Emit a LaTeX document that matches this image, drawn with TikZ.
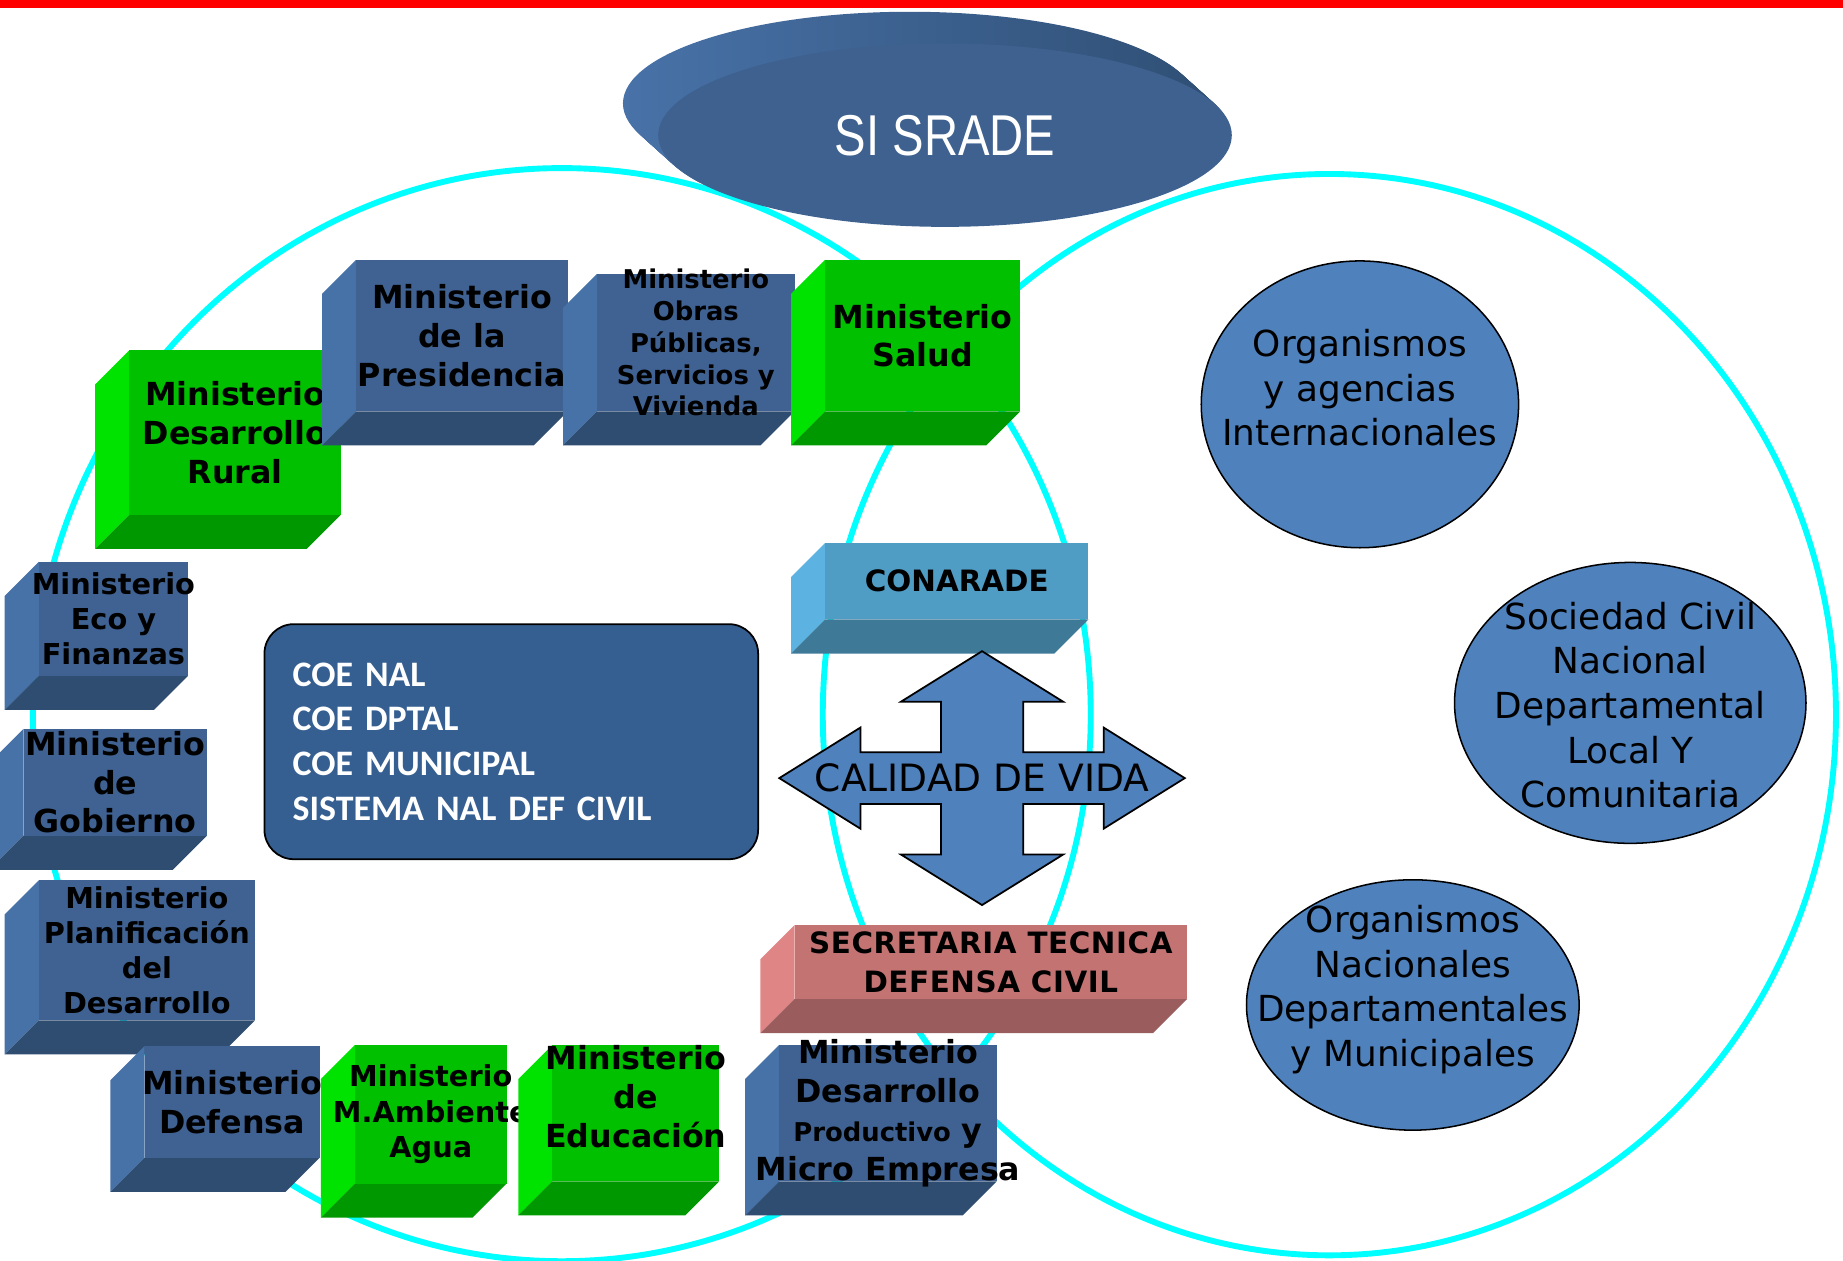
\documentclass[tikz,border=0pt]{standalone}
\usepackage{fontspec}
\setmainfont{DejaVu Sans}
\newfontfamily\calibri{Carlito}
\newfontfamily\titulo[FakeStretch=0.82]{Liberation Sans}
\usetikzlibrary{shapes.geometric}

\definecolor{azul}{RGB}{63,98,146}
\definecolor{azullado}{RGB}{71,114,168}
\definecolor{azulbase}{RGB}{47,77,113}
\definecolor{verde}{RGB}{0,192,0}
\definecolor{verdelado}{RGB}{0,226,0}
\definecolor{verdebase}{RGB}{0,152,0}
\definecolor{celeste}{RGB}{79,156,197}
\definecolor{celestelado}{RGB}{92,179,225}
\definecolor{celestebase}{RGB}{62,121,152}
\definecolor{rosa}{RGB}{196,115,115}
\definecolor{rosalado}{RGB}{224,133,133}
\definecolor{rosabase}{RGB}{154,92,92}
\definecolor{coefondo}{RGB}{54,95,145}
\definecolor{circulos}{RGB}{79,129,189}
\definecolor{cian}{RGB}{0,255,255}
\definecolor{discotapa}{RGB}{62,97,143}
\definecolor{discoclaro}{RGB}{72,114,168}
\definecolor{discooscuro}{RGB}{48,80,118}

\newcommand{\letra}[2]{\fontsize{#1}{#2}\selectfont}
\newcommand{\prof}{29}
% caja 3D: nombre, x, y, ancho, alto, color, estilo, texto
\newcommand{\caja}[8]{%
  \fill[#6lado] (#2,#3) -- ++(-\prof,\prof) -- ++(0,#5) -- ++(\prof,-\prof) -- cycle;
  \fill[#6base] (#2,#3+#5) -- ++(-\prof,\prof) -- ++(#4,0) -- ++(\prof,-\prof) -- cycle;
  \fill[#6] (#2,#3) rectangle ++(#4,#5);
  \node (#1) [textocaja, #7] at (#2+#4/2,#3+#5/2) {#8};
}

\begin{document}
\begin{tikzpicture}[x=1pt, y=-1pt]

    % Estilos
    \tikzstyle{textocaja} = [align=center, inner sep=0pt]
    \tikzstyle{grande} = [font=\bfseries\letra{27}{33}]
    \tikzstyle{mediana} = [font=\bfseries\letra{24.5}{30}]
    \tikzstyle{chica} = [font=\bfseries\letra{22}{27}]
    \tikzstyle{aro} = [draw=cian, line width=5pt]
    \tikzstyle{disco} = [ellipse, fill=discotapa, minimum width=488pt, minimum height=156pt, inner sep=0pt, text=white, font=\titulo\letra{49}{49}]
    \tikzstyle{cruz} = [fill=circulos, draw=black, line width=1.5pt]
    \tikzstyle{coebox} = [rectangle, rounded corners=25pt, fill=coefondo, draw=black, line width=1.5pt, minimum width=420pt, minimum height=200pt, text width=372pt, align=left, text=white, font=\calibri\bfseries\letra{30.5}{38}]
    \tikzstyle{circulo} = [ellipse, fill=circulos, draw=black, line width=1.3pt, inner sep=0pt]
    \tikzstyle{textocirculo} = [align=center, inner sep=0pt, font=\letra{30.5}{38}]

    \useasboundingbox (0,0) rectangle (1568,1072);

    % Fondo
    \fill[red] (0,0) rectangle (1568,6.5);
    \draw[aro] (478,608) ellipse [x radius=450, y radius=465];
    \draw[aro] (1131,608) ellipse [x radius=431, y radius=460];

    % Disco
    \foreach \k in {1,...,30}
        \shade[left color=discoclaro, right color=discooscuro] (804-\k,115-0.9*\k) ellipse [x radius=244, y radius=78];
    \node (sisrade) [disco] at (804,115) {SI SRADE};

    % Cajas
    \caja{rural}{110}{298}{180}{140}{verde}{grande}{Ministerio\\Desarrollo\\Rural}
    \caja{presidencia}{303}{221}{180}{129}{azul}{grande}{Ministerio\\de la\\Presidencia}
    \caja{obras}{508}{233}{168}{117}{azul}{chica}{Ministerio\\Obras\\Públicas,\\Servicios y\\Vivienda}
    \caja{salud}{702}{221}{166}{129}{verde}{grande}{Ministerio\\Salud}
    \caja{conarade}{702}{462}{224}{65}{celeste}{font=\bfseries\letra{25}{30}}{CONARADE}
    \caja{eco}{33}{478}{127}{97}{azul}{mediana}{Ministerio\\Eco y\\Finanzas}
    \caja{gobierno}{20}{620}{156}{91}{azul}{grande}{Ministerio\\de\\Gobierno}
    \caja{planificacion}{33}{749}{184}{119}{azul}{mediana}{Ministerio\\Planificación\\del\\Desarrollo}
    \caja{defensa}{123}{890}{149}{95}{azul}{grande}{Ministerio\\Defensa}
    \caja{agua}{302}{889}{129}{118}{verde}{mediana}{Ministerio\\M.Ambiente\\Agua}
    \caja{educacion}{470}{889}{142}{116}{verde}{grande, yshift=14pt}{Ministerio\\de\\Educación}
    \caja{productivo}{663}{889}{185}{116}{azul}{grande}{Ministerio\\Desarrollo\\{\letra{22}{32}Productivo} y\\Micro Empresa}
    \caja{secretaria}{676}{787}{334}{63}{rosa}{font=\bfseries\letra{25}{33}\addfontfeature{LetterSpace=2}}{SECRETARIA TECNICA\\DEFENSA CIVIL}

    % Flecha
    \begin{scope}[shift={(835.5,662)}]
        \draw[cruz] (0,-108) -- (69,-65) -- (35,-65) -- (35,-22) -- (103.5,-22) -- (103.5,-43) -- (172.5,0)
            -- (103.5,43) -- (103.5,22) -- (35,22) -- (35,65) -- (69,65) -- (0,108) -- (-69,65) -- (-35,65)
            -- (-35,22) -- (-103.5,22) -- (-103.5,43) -- (-172.5,0) -- (-103.5,-43) -- (-103.5,-22)
            -- (-35,-22) -- (-35,-65) -- (-69,-65) -- cycle;
        \node (vida) [font=\letra{32}{32}] at (0,0) {CALIDAD DE VIDA};
    \end{scope}

    % COE
    \node (coe) [coebox] at (435,631) {COE NAL\\COE DPTAL\\COE MUNICIPAL\\SISTEMA NAL DEF CIVIL};

    % Circulos
    \node (internacionales) [circulo, minimum width=270pt, minimum height=244pt] at (1157,344) {};
    \node (internacionales-t) [textocirculo] at ([yshift=14pt]internacionales.center) {Organismos\\y agencias\\Internacionales};
    \node (sociedad) [circulo, minimum width=299pt, minimum height=239pt] at (1387,598) {};
    \node (sociedad-t) [textocirculo] at ([yshift=-2pt]sociedad.center) {Sociedad Civil\\Nacional\\Departamental\\Local Y\\Comunitaria};
    \node (nacionales) [circulo, minimum width=283pt, minimum height=213pt] at (1202,855) {};
    \node (nacionales-t) [textocirculo] at ([yshift=13pt]nacionales.center) {Organismos\\Nacionales\\Departamentales\\y Municipales};

\end{tikzpicture}
\end{document}
